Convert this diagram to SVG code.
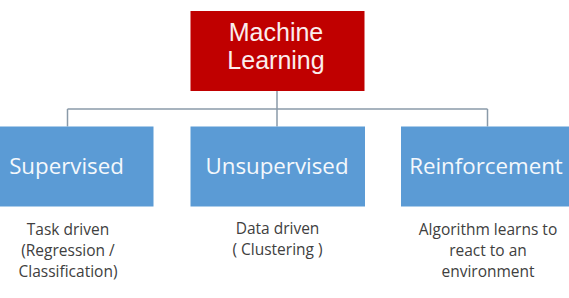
<svg xmlns="http://www.w3.org/2000/svg" width="569" height="298" viewBox="0 0 569 298">
  <style>
    .title { font-family: "Liberation Sans", Arial, sans-serif; font-size: 25px; fill: #FBEDED; text-anchor: middle; }
    .label { font-family: "Open Sans", "Liberation Sans", sans-serif; font-size: 22.3px; fill: #F4F8FC; text-anchor: middle; }
    .desc { font-family: "Open Sans", "Liberation Sans", sans-serif; font-size: 15.5px; fill: #404040; text-anchor: middle; }
    .red { fill: #C00000; }
    .blue { fill: #5B9BD5; }
    .conn { stroke: #8A9AA8; stroke-width: 1.5; fill: none; }
  </style>
  <rect width="569" height="298" fill="#FFFFFF"/>
  <g id="connectors">
    <path class="conn" d="M277 91 V109"/>
    <path class="conn" d="M67.5 109 H487.5"/>
    <path class="conn" d="M67.5 109 V126.5"/>
    <path class="conn" d="M277 109 V126.5"/>
    <path class="conn" d="M487.5 109 V126.5"/>
  </g>
  <g id="machine-learning">
    <rect class="red" x="190.5" y="11" width="174" height="80"/>
    <text class="title" x="276" y="41">Machine</text>
    <text class="title" x="276" y="69">Learning</text>
  </g>
  <g id="supervised">
    <rect class="blue" x="-1" y="126.5" width="154.5" height="80"/>
    <text class="label" x="66.5" y="173.5">Supervised</text>
    <text class="desc" x="68" y="234.5">Task driven</text>
    <text class="desc" x="68" y="255.5">(Regression /</text>
    <text class="desc" x="68" y="276.5">Classification)</text>
  </g>
  <g id="unsupervised">
    <rect class="blue" x="190.5" y="126.5" width="174.5" height="80"/>
    <text class="label" x="277" y="173.5">Unsupervised</text>
    <text class="desc" x="277.5" y="234">Data driven</text>
    <text class="desc" x="277.5" y="255">( Clustering )</text>
  </g>
  <g id="reinforcement">
    <rect class="blue" x="401" y="126.5" width="169" height="80"/>
    <text class="label" x="486" y="173.5">Reinforcement</text>
    <text class="desc" x="488" y="234.5">Algorithm learns to</text>
    <text class="desc" x="488" y="255.5">react to an</text>
    <text class="desc" x="488" y="276.5">environment</text>
  </g>
</svg>
